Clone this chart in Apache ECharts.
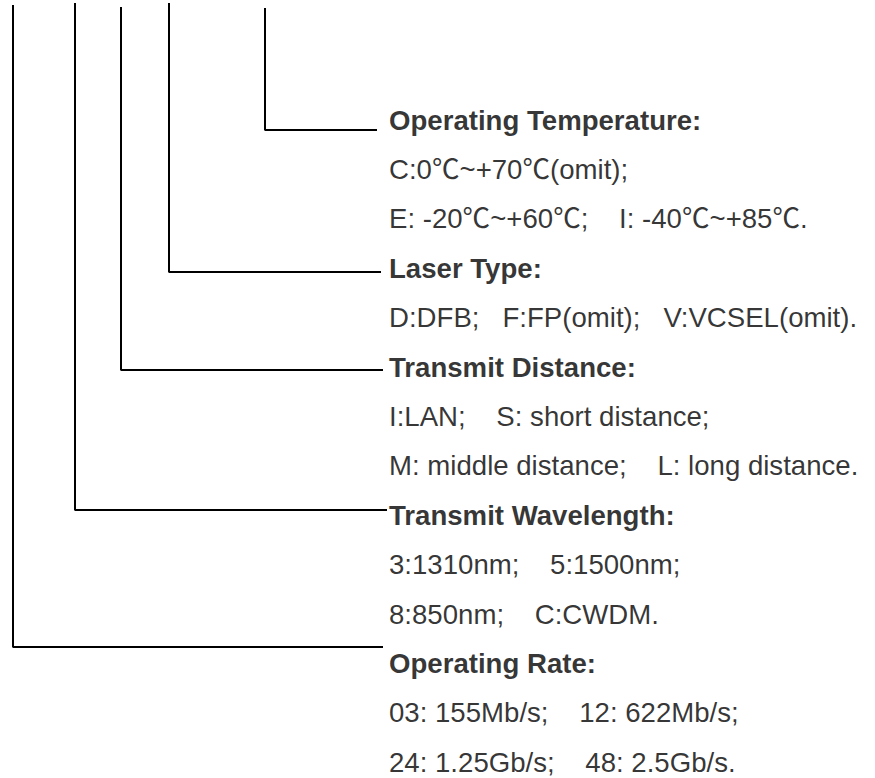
<!DOCTYPE html>
<html>
<head>
<meta charset="utf-8">
<script src="https://cdn.jsdelivr.net/npm/echarts@6/dist/echarts.min.js"></script>
<style>
html,body{margin:0;padding:0;background:#fff;}
#chart{width:875px;height:778px;}
</style>
</head>
<body>
<div id="chart"></div>
<script>
// Section titles (top to bottom)
const titles = ['Operating Temperature:', 'Laser Type:', 'Transmit Distance:', 'Transmit Wavelength:', 'Operating Rate:'];
// Detail lines per section
const details = [
  ['C:0\u2103~+70\u2103(omit);', 'E: -20\u2103~+60\u2103;    I: -40\u2103~+85\u2103.'],
  ['D:DFB;   F:FP(omit);   V:VCSEL(omit).'],
  ['I:LAN;    S: short distance;', 'M: middle distance;    L: long distance.'],
  ['3:1310nm;    5:1500nm;', '8:850nm;    C:CWDM.'],
  ['03: 155Mb/s;    12: 622Mb/s;', '24: 1.25Gb/s;    48: 2.5Gb/s.']
];
// Leader (bracket) lines, one per section
const leaderX   = [265, 169, 121, 75, 13];     // x of the vertical stem
const leaderTop = [8, 3, 7, 3, 5];             // top of the stem
const leaderY   = [130, 272, 370, 510, 647];   // y of the horizontal foot
const leaderEnd = [377, 381, 383, 387, 383];   // right end of the foot
// Text rows
const textX = 389;
const firstRowY = 120;
const rowStep = 49.4;

const W = 875, H = 778;
const series = [];
leaderX.forEach((x, i) => {
  series.push({
    type: 'line',
    data: [[x, leaderTop[i]], [x, leaderY[i]], [leaderEnd[i], leaderY[i]]],
    symbol: 'none',
    lineStyle: { color: '#000', width: 2 },
    silent: true,
    z: 2
  });
});

const textData = [];
let row = 0;
titles.forEach((t, i) => {
  textData.push({ value: [textX, firstRowY + row * rowStep], name: t, bold: true });
  row++;
  details[i].forEach(d => {
    textData.push({ value: [textX, firstRowY + row * rowStep], name: d, bold: false });
    row++;
  });
});

series.push({
  type: 'scatter',
  symbolSize: 0,
  silent: true,
  itemStyle: { color: '#000' },
  label: { show: true, color: '#000' },
  data: textData.map(d => ({
    value: d.value,
    name: d.name,
    label: {
      show: true,
      position: 'right',
      distance: 0,
      formatter: d.name,
      color: '#000',
      fontFamily: '"Liberation Sans", Arial, "Noto Sans CJK SC", sans-serif',
      fontSize: 27.6,
      fontWeight: d.bold ? 'bold' : 'normal',
      align: 'left',
      verticalAlign: 'middle'
    }
  }))
});

const chart = echarts.init(document.getElementById('chart'), null, { renderer: 'svg', width: W, height: H });
chart.setOption({
  animation: false,
  backgroundColor: '#fff',
  grid: { left: 0, right: 0, top: 0, bottom: 0, containLabel: false },
  xAxis: { type: 'value', min: 0, max: W, show: false },
  yAxis: { type: 'value', min: 0, max: H, inverse: true, show: false },
  series: series
});
</script>
</body>
</html>
